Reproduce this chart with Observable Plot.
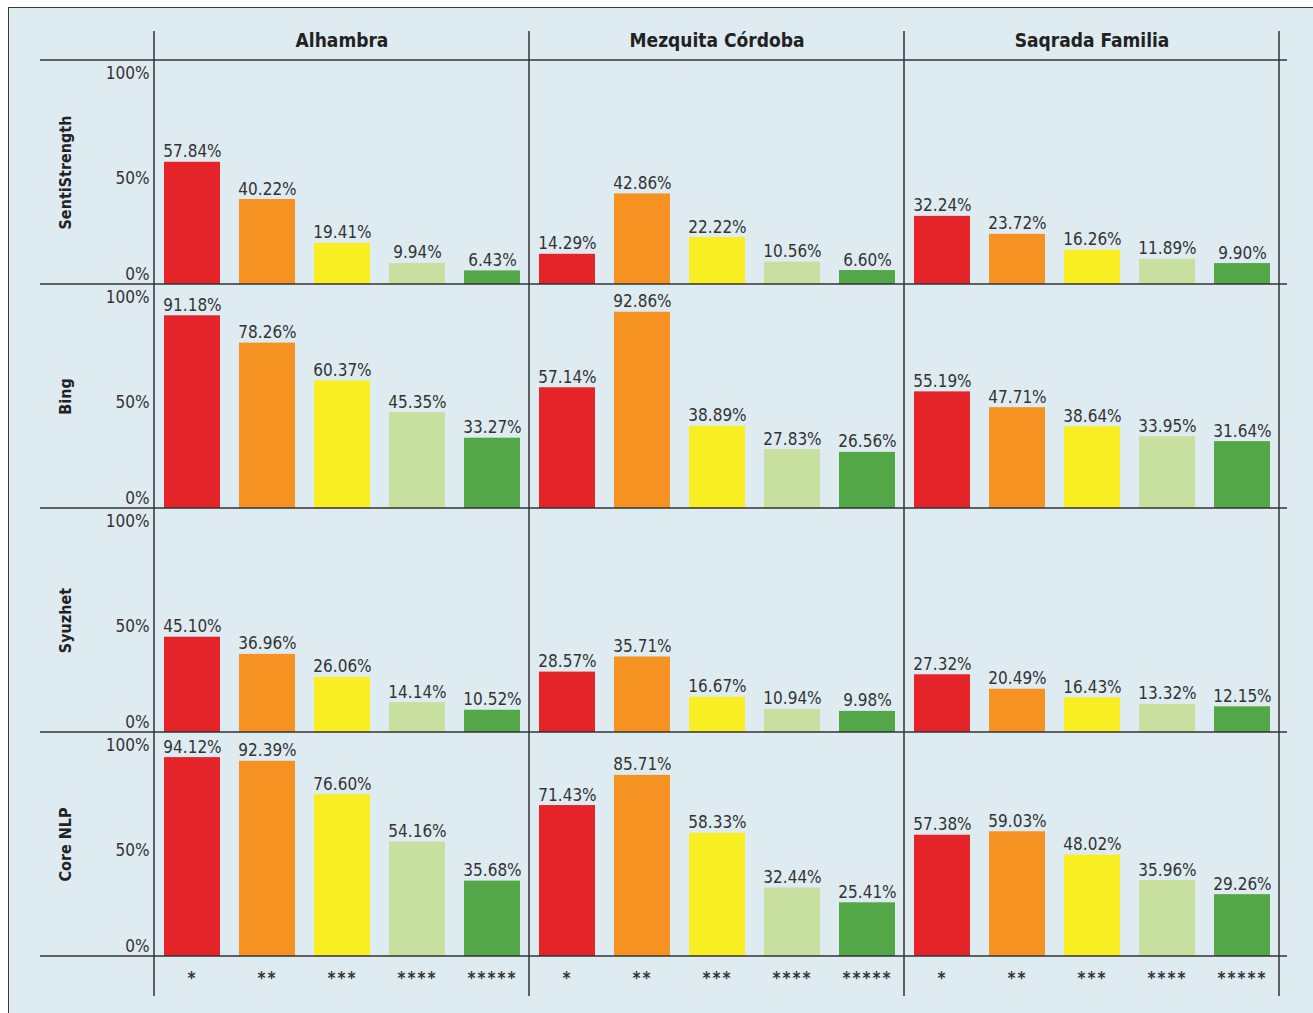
<!DOCTYPE html>
<html><head><meta charset="utf-8">
<script src="https://cdn.jsdelivr.net/npm/d3@7"></script>
<script src="https://cdn.jsdelivr.net/npm/@observablehq/plot@0.6"></script>
<style>
html,body{margin:0;padding:0;background:#fff;overflow:hidden;}
#panel{position:absolute;left:8px;top:7px;width:1320px;height:1020px;background:#deebf1;border-left:1.5px solid #3a3a3a;border-top:1.5px solid #3a3a3a;}
#chart{position:absolute;left:0;top:0;}
#chart svg text{font-family:"Liberation Sans Narrow","DejaVu Sans Condensed",sans-serif;}
.stars text{letter-spacing:2px;}
</style></head><body><div id="panel"></div><div id="chart"></div>
<script>
const sites = ["Alhambra", "Mezquita Córdoba", "Saqrada Familia"];
const tools = ["SentiStrength", "Bing", "Syuzhet", "Core NLP"];
const stars = ["*", "**", "***", "****", "*****"];
const starColors = ["#e42428", "#f59222", "#f9ee22", "#c8e09f", "#53a747"];
const yTicks = [0, 50, 100];

// values per tool: one array per site (Alhambra, Mezquita Córdoba, Saqrada Familia), one value per star level
const sentiStrength = [[57.84, 40.22, 19.41, 9.94, 6.43], [14.29, 42.86, 22.22, 10.56, 6.60], [32.24, 23.72, 16.26, 11.89, 9.90]];
const bing = [[91.18, 78.26, 60.37, 45.35, 33.27], [57.14, 92.86, 38.89, 27.83, 26.56], [55.19, 47.71, 38.64, 33.95, 31.64]];
const syuzhet = [[45.10, 36.96, 26.06, 14.14, 10.52], [28.57, 35.71, 16.67, 10.94, 9.98], [27.32, 20.49, 16.43, 13.32, 12.15]];
const coreNLP = [[94.12, 92.39, 76.60, 54.16, 35.68], [71.43, 85.71, 58.33, 32.44, 25.41], [57.38, 59.03, 48.02, 35.96, 29.26]];

const byTool = [sentiStrength, bing, syuzhet, coreNLP];
const data = [];
tools.forEach((tool, t) => sites.forEach((site, s) => stars.forEach((star, k) => {
  data.push({tool, site, star, value: byTool[t][s][k]});
})));

const W = 1313, H = 1013;
const M = {left: 154, right: 34, top: 59, bottom: 56};
const ink = "#333";

const plot = Plot.plot({
  width: W, height: H,
  marginLeft: M.left, marginRight: M.right, marginTop: M.top, marginBottom: M.bottom,
  style: {background: "transparent", color: ink, overflow: "visible"},
  fx: {domain: sites, padding: 0, axis: null, label: null},
  fy: {domain: tools, padding: 0, axis: null, label: null},
  x: {domain: stars, paddingInner: 0.255, paddingOuter: 0.1275, axis: null, label: null},
  y: {domain: [0, 106], axis: null, label: null},
  color: {domain: stars, range: starColors},
  marks: [
    Plot.barY(data, {fx: "site", fy: "tool", x: "star", y: "value", fill: "star"}),
    Plot.text(data, {fx: "site", fy: "tool", x: "star", y: "value", text: d => d.value.toFixed(2) + "%",
      dy: -5, lineAnchor: "bottom", fontSize: 17, fill: ink}),
    Plot.axisY({ticks: yTicks.filter(v => v > 0), tickSize: 0, tickPadding: 5, tickFormat: d => d + "%", fontSize: 17, label: null, fill: ink}),
    Plot.axisY({ticks: yTicks.filter(v => v === 0), tickSize: 0, tickPadding: 5, tickFormat: d => d + "%", fontSize: 17, label: null, dy: -10, fill: ink}),
    Plot.axisX({tickSize: 0, tickPadding: 15, fontSize: 17, fontWeight: "bold", label: null, fill: ink, className: "stars"}),
    Plot.axisFx({anchor: "top", tickSize: 0, tickPadding: 14, fontSize: 19, fontWeight: "bold", label: null, fill: "#222"}),
    Plot.text(tools, {fy: d => d, text: d => d, frameAnchor: "left", facetAnchor: "left",
      textAnchor: "middle", lineAnchor: "middle",
      rotate: -90, dx: -89, fontSize: 16, fontWeight: "bold", fill: "#222"})
  ]
});
document.getElementById("chart").appendChild(plot);

// structural frame lines, positioned from the plot's facet scales
const fx = plot.scale("fx"), fy = plot.scale("fy");
const svg = d3.select(plot);
const g = svg.append("g").attr("stroke", ink).attr("stroke-width", 1.5);
const colEdges = sites.map(s => fx.apply(s)).concat([fx.apply(sites[sites.length - 1]) + fx.bandwidth]);
const rowEdges = tools.map(t => fy.apply(t)).concat([fy.apply(tools[tools.length - 1]) + fy.bandwidth]);
rowEdges.forEach(y => g.append("line").attr("x1", 40).attr("x2", colEdges[colEdges.length - 1] + 8).attr("y1", y).attr("y2", y));
colEdges.forEach(x => g.append("line").attr("x1", x).attr("x2", x).attr("y1", 31).attr("y2", rowEdges[rowEdges.length - 1] + 40));
</script>
</body></html>
